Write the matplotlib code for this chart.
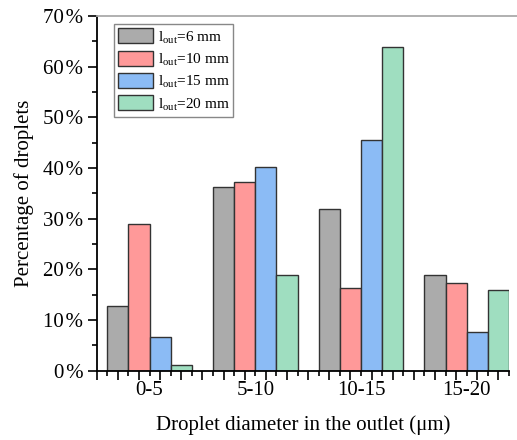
import matplotlib
matplotlib.use('Agg')
import matplotlib.pyplot as plt
from matplotlib.ticker import MultipleLocator, FuncFormatter

plt.rcParams['font.family'] = ['Liberation Serif', 'DejaVu Serif']
plt.rcParams['mathtext.fontset'] = 'custom'
plt.rcParams['mathtext.rm'] = 'Liberation Serif'

groups = ['0-5', '5-10', '10-15', '15-20']
series_labels = ['l$_{\\rm out}$=6 mm', 'l$_{\\rm out}$=10 mm',
                 'l$_{\\rm out}$=15 mm', 'l$_{\\rm out}$=20 mm']
l6 = [12.8, 36.2, 32.0, 18.8]
l10 = [28.9, 37.2, 16.4, 17.3]
l15 = [6.6, 40.2, 45.5, 7.6]
l20 = [1.1, 18.9, 63.9, 15.9]
colors = ['#ABABAB', '#FF9999', '#8BBBF5', '#9FDEC0']

fig = plt.figure(figsize=(5.17, 4.40), dpi=100)
ax = fig.add_axes([0.187, 0.1575, 0.7975, 0.806])

for k, vals in enumerate([l6, l10, l15, l20]):
    xs = [5 * g + k + 1 for g in range(len(groups))]
    ax.bar(xs, vals, width=1.0, color=colors[k], edgecolor='#333333',
           linewidth=1.0, label=series_labels[k], zorder=2)

ax.set_xlim(0, 19.5)
ax.set_ylim(0, 70)
ax.xaxis.set_major_locator(MultipleLocator(1))
ax.xaxis.set_minor_locator(MultipleLocator(0.5))
ax.xaxis.set_major_formatter(FuncFormatter(lambda v, p: ''))
ax.yaxis.set_major_locator(MultipleLocator(10))
ax.yaxis.set_minor_locator(MultipleLocator(5))
ax.yaxis.set_major_formatter(FuncFormatter(lambda v, p: f'{v:.0f}\u200a%'))
ax.tick_params(axis='both', which='major', direction='out', length=6.5, width=1.2,
               labelsize=15, color='black')
ax.tick_params(axis='both', which='minor', direction='out', length=3.5, width=1.2,
               color='black')
ax.tick_params(axis='y', which='major', pad=3)

for g, name in enumerate(groups):
    ax.text(5 * g + 2.5, -0.056, name, transform=ax.get_xaxis_transform(),
            ha='center', va='center', fontsize=15)

for side in ['left', 'bottom']:
    ax.spines[side].set_linewidth(1.3)
ax.spines['right'].set_visible(False)
ax.spines['top'].set_visible(False)
ax.plot([0, 1.04], [1, 1], transform=ax.transAxes, color='#AAAAAA',
        linewidth=1.3, clip_on=False, zorder=3)

ax.set_xlabel('Droplet diameter in the outlet (μm)', fontsize=15, labelpad=22)
ax.set_ylabel('Percentage of droplets', fontsize=15, labelpad=7)

leg = ax.legend(loc='upper left', bbox_to_anchor=(0.035, 0.985), fontsize=11,
                fancybox=False, edgecolor='#888888', framealpha=1,
                handlelength=2.3, handleheight=1.15, handletextpad=0.3,
                labelspacing=0.32, borderpad=0.25, borderaxespad=0.2)
leg.get_frame().set_linewidth(1.0)

fig.savefig('out.png', dpi=100)
